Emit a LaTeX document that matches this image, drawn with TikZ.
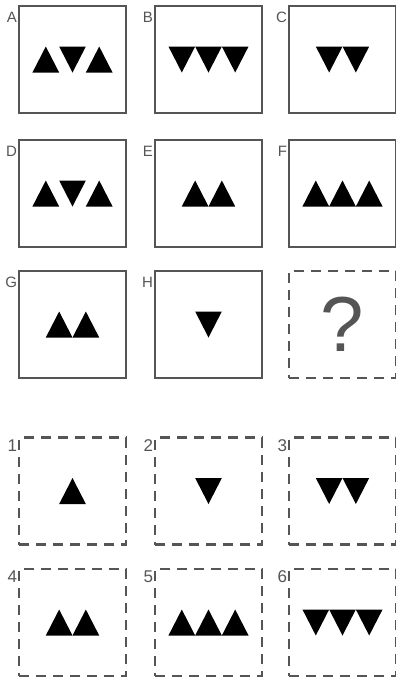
\documentclass[tikz,border=0pt]{standalone}
\usepackage{fontspec}
\setmainfont{Liberation Sans}
\usetikzlibrary{positioning,calc}

\definecolor{framegray}{HTML}{555555}

\tikzset{
  panel/.style={draw=framegray, line width=2.2pt, minimum width=107pt,
    minimum height=107pt, inner sep=0pt, outer sep=0pt},
  choice/.style={panel, dash pattern=on 10pt off 7pt},
  tag/.style={text=framegray, inner sep=0pt, outer sep=0pt,
    font=\fontsize{15}{15}\selectfont},
  numtag/.style={tag, font=\fontsize{17}{17}\selectfont},
  pointup/.style={},
  pointdown/.style={yscale=-1},
}

% #1 panel, #2 number of triangles, #3 orientations
\newcommand{\tripanel}[3]{%
  \foreach \dir [count=\k] in {#3} {
    \pgfmathsetmacro{\offx}{(\k-(#2+1)/2)*26.7}
    \fill[black, shift={($(#1.center)+(\offx,0)$)}, \dir]
      (-13.35,13) -- (13.35,13) -- (0,-13) -- cycle;
  }}

\begin{document}
\begin{tikzpicture}[x=1pt, y=-1pt]
  \useasboundingbox (0,0) rectangle (396,678);

  % --- Matrix ---
  \node[panel] (A) at (72.5,59.5) {};
  \node[panel] (B) at (208.5,59.5) {};
  \node[panel] (C) at (342.5,59.5) {};
  \node[panel] (D) at (72.5,193.5) {};
  \node[panel] (E) at (208.5,193.5) {};
  \node[panel] (F) at (342.5,193.5) {};
  \node[panel] (G) at (72.5,324.5) {};
  \node[panel] (H) at (208.5,324.5) {};
  \node[choice] (Q) at (342.5,324.5)
      {\textcolor{framegray}{\fontsize{78}{78}\selectfont ?}};

  % --- Answer choices ---
  \node[choice] (O1) at (72.5,491) {};
  \node[choice] (O2) at (208.5,491) {};
  \node[choice] (O3) at (342.5,491) {};
  \node[choice] (O4) at (72.5,622.5) {};
  \node[choice] (O5) at (208.5,622.5) {};
  \node[choice] (O6) at (342.5,622.5) {};

  % --- Letters ---
  \node[tag, below left=6pt and 2pt of A.north west] (labA) {A};
  \node[tag, below left=6pt and 2pt of B.north west] (labB) {B};
  \node[tag, below left=6pt and 2pt of C.north west] (labC) {C};
  \node[tag, below left=6pt and 2pt of D.north west] (labD) {D};
  \node[tag, below left=6pt and 2pt of E.north west] (labE) {E};
  \node[tag, below left=6pt and 2pt of F.north west] (labF) {F};
  \node[tag, below left=6pt and 2pt of G.north west] (labG) {G};
  \node[tag, below left=6pt and 2pt of H.north west] (labH) {H};

  % --- Numbers ---
  \node[numtag, below left=2pt and 2pt of O1.north west] (lab1) {1};
  \node[numtag, below left=2pt and 2pt of O2.north west] (lab2) {2};
  \node[numtag, below left=2pt and 2pt of O3.north west] (lab3) {3};
  \node[numtag, below left=2pt and 2pt of O4.north west] (lab4) {4};
  \node[numtag, below left=2pt and 2pt of O5.north west] (lab5) {5};
  \node[numtag, below left=2pt and 2pt of O6.north west] (lab6) {6};

  % --- Triangles ---
  \tripanel{A}{3}{pointup,pointdown,pointup}
  \tripanel{B}{3}{pointdown,pointdown,pointdown}
  \tripanel{C}{2}{pointdown,pointdown}
  \tripanel{D}{3}{pointup,pointdown,pointup}
  \tripanel{E}{2}{pointup,pointup}
  \tripanel{F}{3}{pointup,pointup,pointup}
  \tripanel{G}{2}{pointup,pointup}
  \tripanel{H}{1}{pointdown}
  \tripanel{O1}{1}{pointup}
  \tripanel{O2}{1}{pointdown}
  \tripanel{O3}{2}{pointdown,pointdown}
  \tripanel{O4}{2}{pointup,pointup}
  \tripanel{O5}{3}{pointup,pointup,pointup}
  \tripanel{O6}{3}{pointdown,pointdown,pointdown}

\end{tikzpicture}
\end{document}
